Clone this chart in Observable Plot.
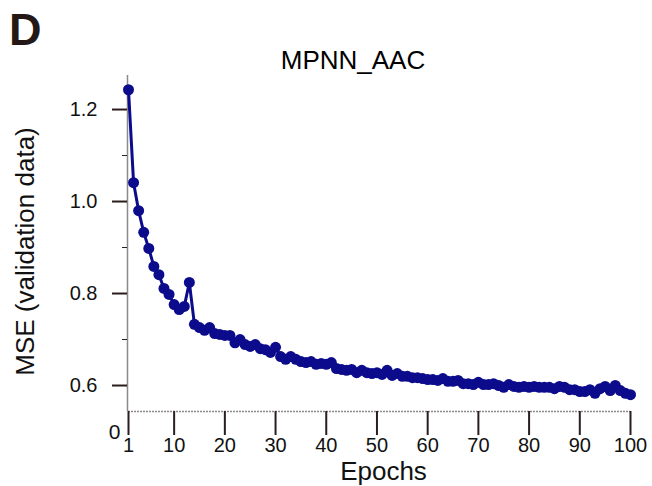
<!DOCTYPE html>
<html>
<head>
<meta charset="utf-8">
<script src="https://cdn.jsdelivr.net/npm/d3@7"></script>
<script src="https://cdn.jsdelivr.net/npm/@observablehq/plot@0.6"></script>
<style>
  html, body { margin: 0; padding: 0; background: #fff; }
  #wrap { position: relative; width: 652px; height: 486px; font-family: "Liberation Sans", Arial, sans-serif; }
  #panel { position: absolute; left: 9px; top: 7px; font-size: 45px; font-weight: bold; color: #231815; line-height: 1; }
  #title { position: absolute; left: 0; width: 706px; top: 47px; text-align: center; font-size: 26px; color: #000; line-height: 1; }
  #chart { position: absolute; left: 0; top: 0; }
</style>
</head>
<body>
<div id="wrap">
  <div id="chart"></div>
  <div id="panel">D</div>
  <div id="title">MPNN_AAC</div>
</div>
<script>
const epochs = d3.range(1, 101);
const mse = [
  1.243, 1.041, 0.980, 0.933, 0.898, 0.859, 0.841, 0.811, 0.798, 0.776,
  0.765, 0.772, 0.824, 0.733, 0.726, 0.720, 0.726, 0.713, 0.711, 0.709,
  0.709, 0.693, 0.700, 0.689, 0.685, 0.689, 0.680, 0.678, 0.672, 0.683,
  0.663, 0.657, 0.663, 0.657, 0.652, 0.650, 0.652, 0.646, 0.648, 0.646,
  0.650, 0.637, 0.635, 0.633, 0.635, 0.628, 0.633, 0.628, 0.626, 0.628,
  0.624, 0.633, 0.622, 0.626, 0.620, 0.620, 0.617, 0.617, 0.615, 0.613,
  0.613, 0.611, 0.615, 0.609, 0.609, 0.611, 0.604, 0.604, 0.602, 0.607,
  0.602, 0.602, 0.604, 0.600, 0.596, 0.602, 0.598, 0.596, 0.598, 0.596,
  0.598, 0.596, 0.596, 0.596, 0.593, 0.598, 0.596, 0.591, 0.591, 0.587,
  0.587, 0.591, 0.583, 0.593, 0.598, 0.589, 0.600, 0.589, 0.583, 0.580
];
const xTicks = [1, 10, 20, 30, 40, 50, 60, 70, 80, 90, 100];
const yMajorTicks = [0.6, 0.8, 1.0, 1.2];
const yMinorTicks = [0.7, 0.9, 1.1];
const titleText = "MPNN_AAC";
const xLabel = "Epochs";
const yLabel = "MSE (validation data)";
const breakLabel = ["0"];

const data = epochs.map((e, i) => ({epoch: e, mse: mse[i]}));
const yMin = 0.5435, yMax = 1.274;
const lineColor = "#0b0b8c";
const tickColor = "#2b1d1d";

const chart = Plot.plot({
  width: 652,
  height: 486,
  marginLeft: 128,
  marginRight: 22,
  marginTop: 75,
  marginBottom: 75,
  style: {fontFamily: "'Liberation Sans', Arial, sans-serif", background: "white"},
  x: {domain: [1, 100]},
  y: {domain: [yMin, yMax]},
  marks: [
    Plot.ruleY([yMin], {stroke: "#8a8a8a", strokeWidth: 1.5, strokeDasharray: "2,1"}),
    Plot.ruleX([1], {stroke: "#8a8a8a", strokeWidth: 1.5, dx: -1}),
    Plot.axisX({ticks: xTicks, tickSize: 24, stroke: tickColor, strokeWidth: 2, tickPadding: 2, fontSize: 20, label: null, color: "#111"}),
    Plot.axisY({ticks: yMajorTicks, tickSize: 15, stroke: tickColor, strokeWidth: 2, tickPadding: 15, dx: -1, fontSize: 20, tickFormat: d3.format(".1f"), label: null, color: "#111"}),
    Plot.axisY({ticks: yMinorTicks, tickSize: 5, stroke: tickColor, strokeWidth: 1, tickFormat: () => "", dx: -1, label: null}),
    Plot.text(breakLabel, {frameAnchor: "bottom-left", text: d => d, dx: -14, dy: 21, textAnchor: "middle", lineAnchor: "middle", fontSize: 21, fill: "#111"}),
    Plot.text([xLabel], {frameAnchor: "bottom", text: d => d, dx: 4, dy: 60, textAnchor: "middle", lineAnchor: "middle", fontSize: 26, fill: "#111"}),
    Plot.text([yLabel], {frameAnchor: "left", text: d => d, dx: -103, dy: 8, rotate: -90, textAnchor: "middle", lineAnchor: "middle", fontSize: 26, fill: "#111"}),
    Plot.line(data, {x: "epoch", y: "mse", stroke: lineColor, strokeWidth: 3}),
    Plot.dot(data, {x: "epoch", y: "mse", r: 5.5, fill: lineColor, stroke: "none"})
  ]
});
document.getElementById("chart").appendChild(chart);
document.getElementById("title").textContent = titleText;
</script>
</body>
</html>
